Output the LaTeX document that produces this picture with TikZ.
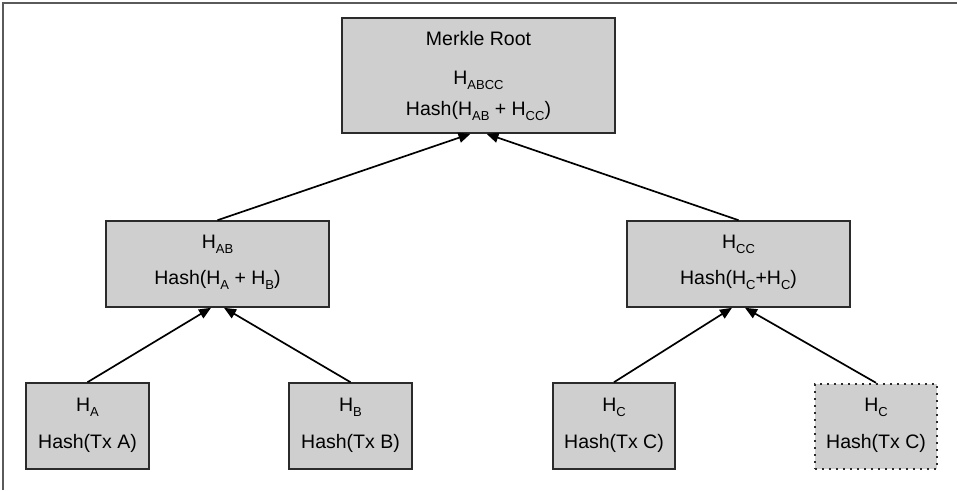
\documentclass[tikz,border=0pt]{standalone}
\usepackage{fontspec}
\setmainfont{Liberation Sans}
\usetikzlibrary{arrows.meta}
\definecolor{boxfill}{HTML}{CFCFCF}
\definecolor{boxline}{HTML}{2B2B2B}
\definecolor{framegray}{HTML}{5A5A5A}
\newcommand{\sbs}[1]{\raisebox{-5.5pt}{\fontsize{13}{13}\selectfont #1}}
\begin{document}
\begin{tikzpicture}[x=1pt,y=-1pt,
  box/.style={draw=boxline, fill=boxfill, line width=1.6pt, inner sep=0pt, rectangle},
  dotbox/.style={box, line width=2.4pt, dash pattern=on 2.2pt off 4.8pt},
  txt/.style={anchor=base, inner sep=0pt, font=\fontsize{19.5}{22}\selectfont},
  arr/.style={line width=1.7pt, -{Triangle[length=12pt,width=10pt]}}]
\useasboundingbox (0,0) rectangle (957,490);
\fill[white] (0,0) rectangle (957,490);
\draw[framegray, line width=1.6pt] (2.7,490) -- (2.7,2.7) -- (957,2.7);
% boxes
\node[box, minimum width=273pt, minimum height=115pt] (root) at (478.5,75.5) {};
\node[box, minimum width=223pt, minimum height=86pt] (ab) at (217.5,264) {};
\node[box, minimum width=223pt, minimum height=86pt] (cc) at (738.5,264) {};
\node[box, minimum width=123pt, minimum height=86pt] (a) at (87.5,426) {};
\node[box, minimum width=123pt, minimum height=86pt] (b) at (350.5,426) {};
\node[box, minimum width=122pt, minimum height=86pt] (c) at (614,426) {};
\node[dotbox, minimum width=122pt, minimum height=85pt] (c2) at (876,426.5) {};
% texts
\node[txt] (rt1) at (478.5,45) {Merkle Root};
\node[txt] (rt2) at (478.5,84) {H\sbs{ABCC}};
\node[txt] (rt3) at (478.5,115) {Hash(H\sbs{AB} + H\sbs{CC})};
\node[txt] (abt1) at (217.5,248) {H\sbs{AB}};
\node[txt] (abt2) at (217.5,284) {Hash(H\sbs{A} + H\sbs{B})};
\node[txt] (cct1) at (738.5,248) {H\sbs{CC}};
\node[txt] (cct2) at (738.5,284) {Hash(H\sbs{C}+H\sbs{C})};
\node[txt] (at1) at (87.5,411) {H\sbs{A}};
\node[txt] (at2) at (87.5,448) {Hash(Tx A)};
\node[txt] (bt1) at (350.5,411) {H\sbs{B}};
\node[txt] (bt2) at (350.5,448) {Hash(Tx B)};
\node[txt] (ct1) at (614,411) {H\sbs{C}};
\node[txt] (ct2) at (614,448) {Hash(Tx C)};
\node[txt] (c2t1) at (876,411) {H\sbs{C}};
\node[txt] (c2t2) at (876,448) {Hash(Tx C)};
% connectors
\draw[arr] (a.north) -- ([xshift=-6.5pt]ab.south);
\draw[arr] (b.north) -- ([xshift=6.5pt]ab.south);
\draw[arr] (c.north) -- ([xshift=-6.5pt]cc.south);
\draw[arr] (c2.north) -- ([xshift=6.5pt]cc.south);
\draw[arr] (ab.north) -- ([xshift=-8pt]root.south);
\draw[arr] (cc.north) -- ([xshift=8pt]root.south);
\end{tikzpicture}
\end{document}
